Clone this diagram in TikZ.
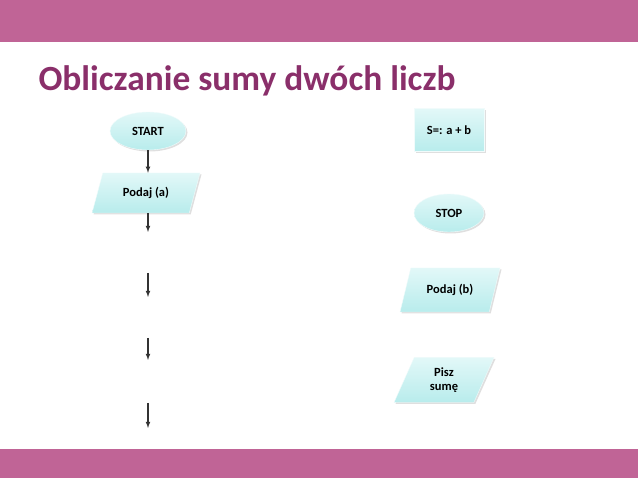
\documentclass[tikz,border=0pt]{standalone}
\usepackage{fontspec}
\setmainfont{Carlito}
\usetikzlibrary{positioning, shapes.geometric, shadows}
\definecolor{cPink}{HTML}{C06496}
\definecolor{cTitle}{HTML}{8A2F6A}
\definecolor{cCyan}{HTML}{B8ECEC}
\definecolor{cCyanLight}{HTML}{E2F8F8}

\begin{document}
\begin{tikzpicture}[
    x=1pt, y=-1pt,
    % ---------------------------------------------------------
    % ESTILOS BASE
    % ---------------------------------------------------------
    block/.style={
        draw=white!80!cCyan,
        top color=cCyanLight,
        bottom color=cCyan,
        font=\fontsize{12.5}{14}\selectfont\bfseries,
        text=black,
        align=center,
        inner sep=2pt,
        drop shadow={shadow xshift=1.5pt, shadow yshift=-1.5pt, opacity=0.25}
    },
    terminal/.style={
        block, ellipse,
        minimum width=#1, minimum height=38
    },
    process/.style={
        block, rectangle,
        minimum width=70, minimum height=43
    },
    io/.style={
        block, trapezium,
        trapezium left angle=55, trapezium right angle=125,
        trapezium stretches body,
        minimum width=#1, minimum height=40
    },
    flow/.style={
        draw=black!80, line width=1.1pt, -latex
    }
]
\useasboundingbox (0,0) rectangle (638,478);

% ---------------------------------------------------------
% 1. FONDO DE LA DIAPOSITIVA
% ---------------------------------------------------------
\fill[cPink] (0,0) rectangle (638,42);
\fill[cPink] (0,449) rectangle (638,478);
\node[anchor=west, text=cTitle, font=\fontsize{35.4}{40}\selectfont\bfseries] (title) at (35,81) {Obliczanie sumy dwóch liczb};

% ---------------------------------------------------------
% 2. BLOQUES
% ---------------------------------------------------------
\node[terminal=76] (start) at (148,131) {START};
\node[io=108] (podajA) at (146,193) {Podaj (a)};

\node[process] (suma) at (449,130) {S=: a + b};
\node[terminal=70] (stop) at (449,213) {STOP};
\node[io=100, minimum height=44] (podajB) at (450,290) {Podaj (b)};
\node[io=100, minimum height=45] (pisz) at (444,380) {Pisz\\sumę};

% ---------------------------------------------------------
% 3. FLECHAS SUELTAS
% ---------------------------------------------------------
\coordinate (a1) at (148,232);
\coordinate (b0) at (148,273);
\coordinate (b1) at (148,297);
\coordinate (c0) at (148,338);
\coordinate (c1) at (148,360);
\coordinate (d0) at (148,403);
\coordinate (d1) at (148,428);

\draw[flow] (start.south) -- (start.south |- podajA.north);
\draw[flow] (podajA.south -| a1) -- (a1);
\draw[flow] (b0) -- (b1);
\draw[flow] (c0) -- (c1);
\draw[flow] (d0) -- (d1);

\end{tikzpicture}
\end{document}
